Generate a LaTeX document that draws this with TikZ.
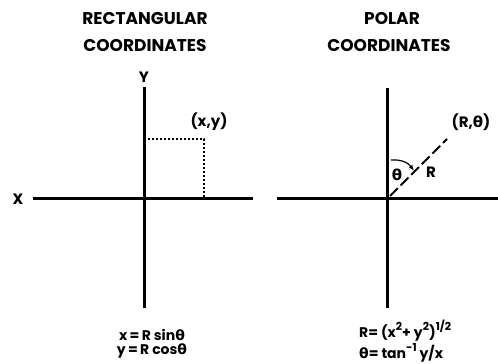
\documentclass[tikz,border=0pt]{standalone}
\usepackage{fontspec}
\usetikzlibrary{arrows.meta}
\setmainfont{Poppins}[UprightFont=* Bold]
\newfontfamily\grk{DejaVu Sans Bold}
\newcommand{\thet}{{\grk θ}}
\newcommand{\up}[1]{\raisebox{0.5em}{\fontsize{11}{11}\selectfont #1}}
\begin{document}
\begin{tikzpicture}[x=1pt, y=1pt, line cap=butt]
    % etiquetas y ejes
    \tikzset{
        axis/.style={line width=3pt},
        lbl/.style={inner sep=0pt, font=\fontsize{15}{15}\selectfont},
        ttl/.style={inner sep=0pt, font=\fontsize{17}{17}\selectfont},
        eqn/.style={inner sep=0pt, font=\fontsize{14}{14}\selectfont}
    }
    \useasboundingbox (0,0) rectangle (498,364);

    % --- RECTANGULARES ---
    \node[ttl] (rtitA) at (145,345) {RECTANGULAR};
    \node[ttl] (rtitB) at (145,318) {COORDINATES};
    \coordinate (ltop) at (144,277);
    \coordinate (lbot) at (144,56);
    \coordinate (lleft) at (33,165);
    \coordinate (lright) at (253,165);
    \coordinate (pxy) at (204,225);
    \draw[axis] (ltop) -- (lbot);
    \draw[axis] (lleft) -- (lright);
    \node[lbl] (xlab) at (18,165) {X};
    \node[lbl] (ylab) at (144,287) {Y};
    \draw[line width=1.8pt, dash pattern=on 1.8pt off 2.2pt] (ltop |- pxy) -- (pxy) -- (pxy |- lleft);
    \node[lbl] (xy) at (209,242) {(x,y)};
    \node[eqn] (eqA) at (152,29) {x{\,}={\,}R sin\thet};
    \node[eqn] (eqB) at (152,13) {y{\,}={\,}R cos\thet};

    % --- POLARES ---
    \node[ttl] (ptitA) at (392,345) {POLAR};
    \node[ttl] (ptitB) at (389,318) {COORDINATES};
    \coordinate (rtop) at (387,276);
    \coordinate (rbot) at (387,56);
    \coordinate (rleft) at (277,165);
    \coordinate (rright) at (498,165);
    \coordinate (rtip) at (447,225);
    \draw[axis] (rtop) -- (rbot);
    \draw[axis] (rleft) -- (rright);
    \draw[line width=2pt, dash pattern=on 11pt off 4pt] (390,168) -- (rtip);
    \node[lbl] (rt) at (471,242) {(R,\thet)};
    \node[lbl] (rl) at (431,192) {R};
    \node[lbl] (tl) at (397,189) {\thet};
    \draw[line width=1.2pt, -{Latex[length=6pt]}] (391,204) to[bend left=30] (414,193);
    \node[eqn, anchor=west] (eqC) at (359,33) {R= (x\up{2}+ y\up{2})\up{1/2}};
    \node[eqn, anchor=west] (eqD) at (359,11) {\thet= tan\up{-1} y/x};
\end{tikzpicture}
\end{document}
